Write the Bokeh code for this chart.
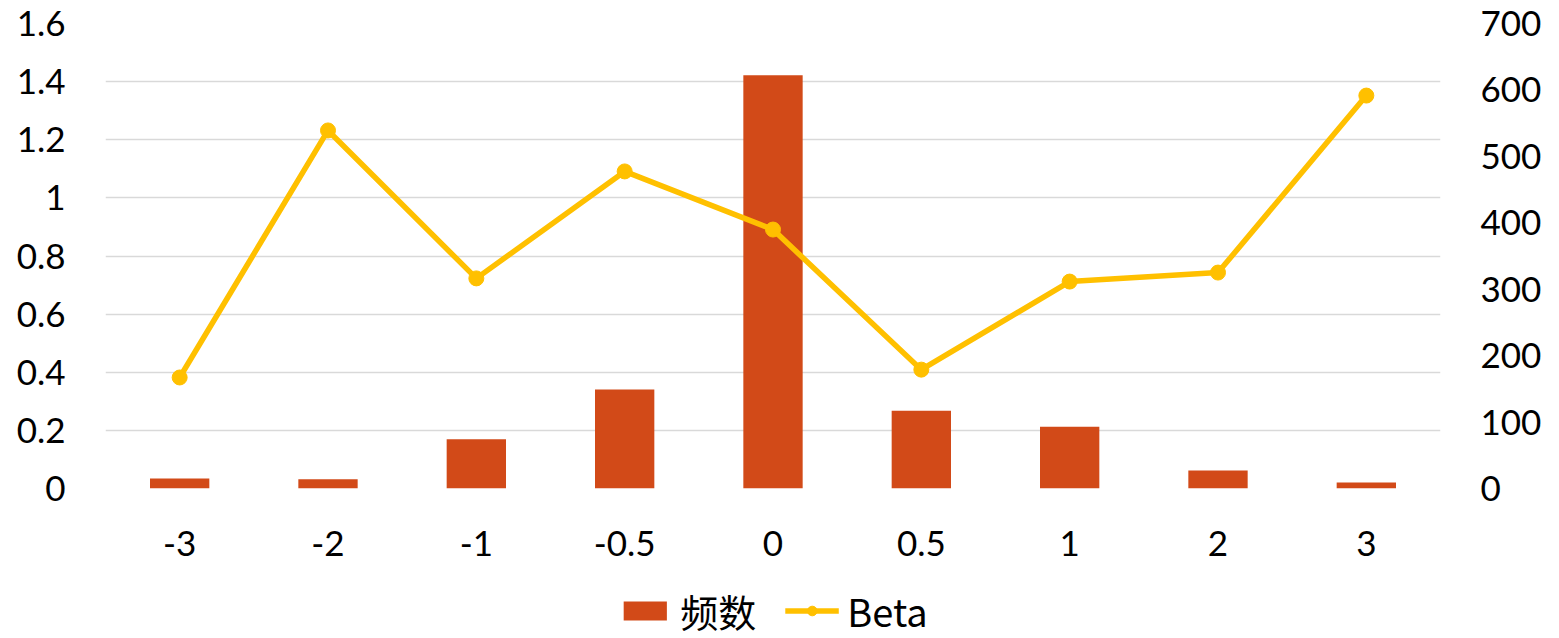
from bokeh.plotting import figure
from bokeh.layouts import column
from bokeh.models import (Range1d, LinearAxis, FixedTicker, CustomJSTickFormatter,
                          Legend, LegendItem, FactorRange)
from bokeh.embed import file_html
from bokeh.resources import INLINE

categories = ["-3", "-2", "-1", "-0.5", "0", "0.5", "1", "2", "3"]
freq = [15, 14, 74, 149, 622, 117, 93, 27, 9]          # 频数 (right axis)
beta = [0.382, 1.232, 0.723, 1.091, 0.891, 0.409, 0.712, 0.743, 1.352]  # Beta (left axis)
left_ticks = [0, 0.2, 0.4, 0.6, 0.8, 1.0, 1.2, 1.4, 1.6]
right_ticks = [0, 100, 200, 300, 400, 500, 600, 700]
series_names = ["频数", "Beta"]

BAR_COLOR = "#D24A18"
LINE_COLOR = "#FFC000"
FONT = "Lato"

p = figure(width=1559, height=582, x_range=FactorRange(*categories),
           y_range=Range1d(0, 1.6), output_backend="svg", toolbar_location=None,
           min_border_left=105, min_border_right=119, min_border_top=23,
           min_border_bottom=94)
p.extra_y_ranges = {"right": Range1d(0, 700)}
p.outline_line_color = None
p.background_fill_color = "white"
p.border_fill_color = "white"

bars = p.vbar(x=categories, top=freq, width=0.4, y_range_name="right",
              fill_color=BAR_COLOR, line_color=None)
ln = p.line(x=categories, y=beta, line_color=LINE_COLOR, line_width=5.5)
pts = p.scatter(x=categories, y=beta, size=15, fill_color=LINE_COLOR,
                line_color=LINE_COLOR)

fmt = CustomJSTickFormatter(code="return String(Math.round(tick*10)/10);")

la = p.yaxis[0]
la.ticker = FixedTicker(ticks=left_ticks)
la.formatter = fmt
ra = LinearAxis(y_range_name="right", ticker=FixedTicker(ticks=right_ticks))
p.add_layout(ra, "right")

for ax in [la, ra, p.xaxis[0]]:
    ax.axis_line_color = None
    ax.major_tick_line_color = None
    ax.minor_tick_line_color = None
    ax.major_tick_out = 0
    ax.major_tick_in = 0
    ax.major_label_text_font = FONT
    ax.major_label_text_font_size = "35px"
    ax.major_label_text_color = "#000000"
la.major_label_standoff = 40
ra.major_label_standoff = 40
p.xaxis[0].major_label_standoff = 42

p.xgrid.grid_line_color = None
p.ygrid.grid_line_color = "#D9D9D9"
p.ygrid.grid_line_width = 1.5
p.ygrid.ticker = FixedTicker(ticks=left_ticks)

# legend strip below the chart: the same series, muted (fully transparent)
# so only their legend glyphs show
lp = figure(width=1559, height=56, x_axis_type=None, y_axis_type=None,
            x_range=FactorRange(*categories), y_range=Range1d(-20, -10),
            output_backend="svg", toolbar_location=None,
            min_border_left=0, min_border_right=0, min_border_top=0,
            min_border_bottom=0)
lp.outline_line_color = None
lp.grid.grid_line_color = None
lbar = lp.vbar(x=categories, top=freq, width=0.4, fill_color=BAR_COLOR,
               line_color=None, muted_alpha=0)
lln = lp.line(x=categories, y=beta, line_color=LINE_COLOR, line_width=5.5,
              muted_alpha=0)
lpts = lp.scatter(x=categories, y=beta, size=15, fill_color=LINE_COLOR,
                  line_color=LINE_COLOR, muted_alpha=0)
for r in (lbar, lln, lpts):
    r.muted = True

legend = Legend(items=[LegendItem(label=series_names[0], renderers=[lbar]),
                       LegendItem(label=series_names[1], renderers=[lln, lpts])],
                orientation="horizontal", location="center",
                label_text_font="Noto Sans CJK SC", label_text_font_size="38px",
                label_text_color="#000000",
                glyph_width=54, glyph_height=24, label_standoff=9, spacing=28,
                padding=0, margin=0, border_line_color=None,
                background_fill_alpha=0, click_policy="none")
lp.add_layout(legend, "center")

layout = column(p, lp, spacing=0)
open("out.html", "w").write(file_html(layout, INLINE))
